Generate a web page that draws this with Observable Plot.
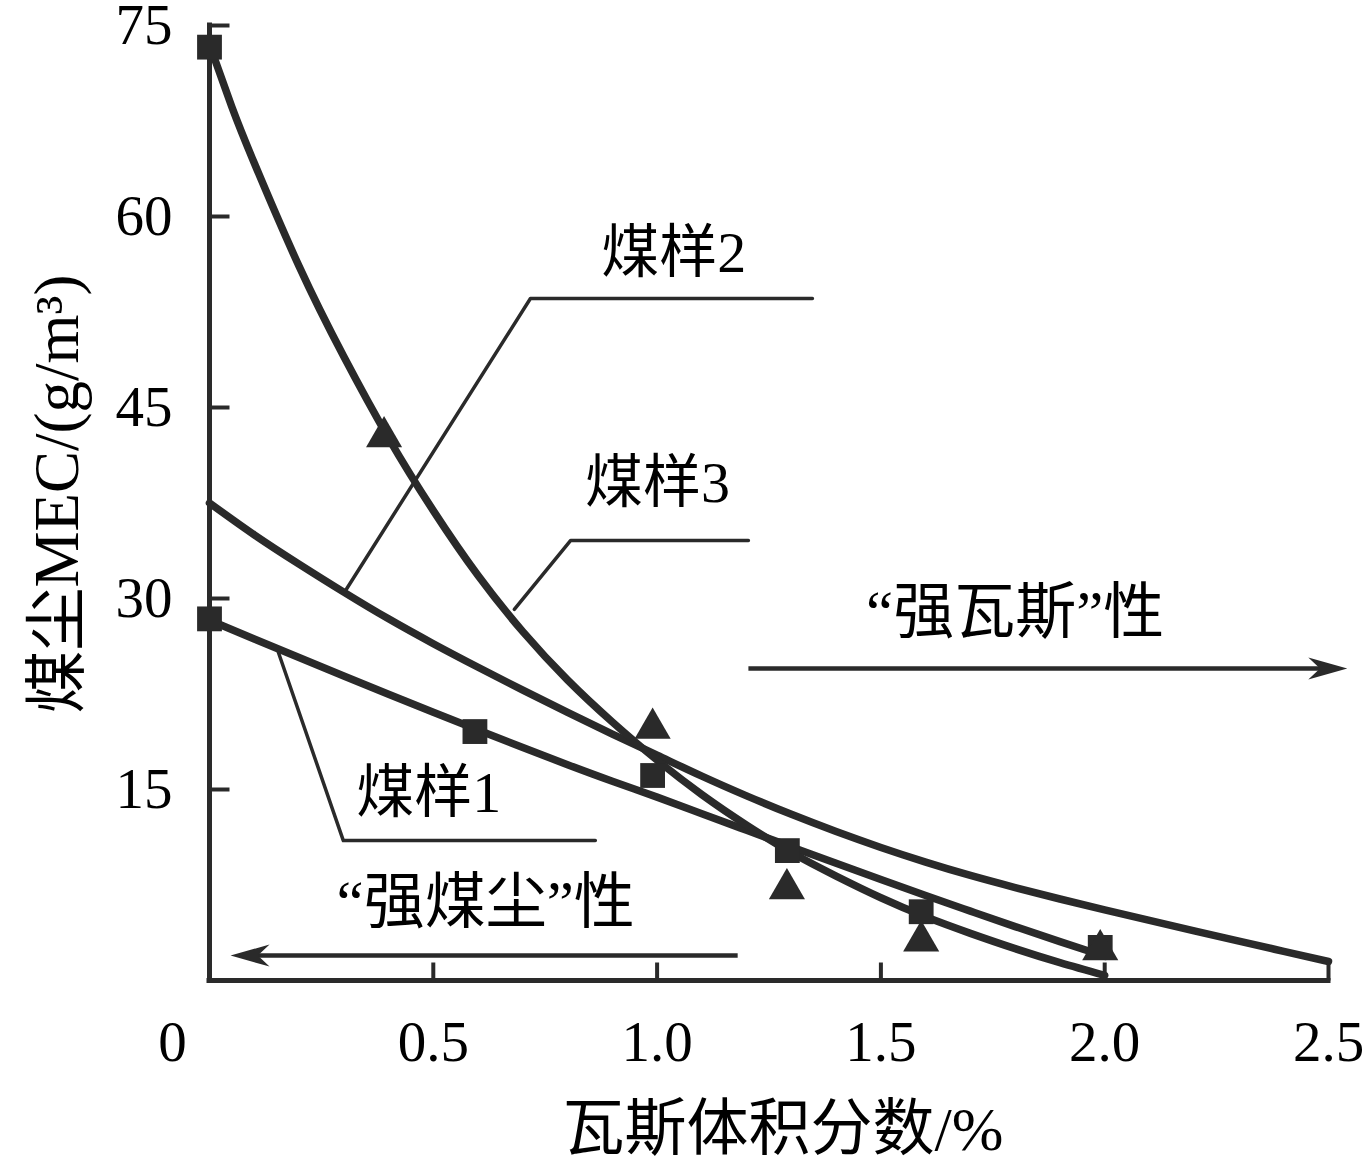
<!DOCTYPE html>
<html><head><meta charset="utf-8">
<script src="https://cdn.jsdelivr.net/npm/d3@7"></script>
<script src="https://cdn.jsdelivr.net/npm/@observablehq/plot@0.6"></script>
<style>body{margin:0;background:#fff}</style>
</head><body><div id="chart"></div>
<script>
// ---- data ----
const xTicks = [0.5, 1.0, 1.5, 2.0, 2.5];
const yTicks = [15, 30, 45, 60, 75];

// 煤样3 (steep fitted curve)
const gas3 = [0,0.05,0.1,0.2,0.3,0.4,0.5,0.6,0.7,0.8,0.9,1.0,1.1,1.2,1.3,1.4,1.5,1.6,1.7,1.8,1.9,2.0];
const mec3 = [73.5,68.6,64.2,56.1,49.0,42.6,36.9,31.8,27.4,23.6,20.3,17.3,14.6,12.2,10.05,8.2,6.5,5.0,3.7,2.5,1.4,0.4];
// 煤样2 (middle fitted curve)
const gas2 = [0,0.1,0.2,0.3,0.4,0.5,0.6,0.7,0.8,0.9,1.0,1.1,1.2,1.3,1.4,1.5,1.6,1.7,1.8,1.9,2.0,2.1,2.2,2.3,2.4,2.5];
const mec2 = [37.5,35.0,32.7,30.5,28.4,26.45,24.6,22.8,21.05,19.35,17.7,16.05,14.5,13.05,11.7,10.45,9.3,8.25,7.3,6.4,5.55,4.72,3.9,3.09,2.29,1.49];
// 煤样1 (lower fitted curve)
const gas1 = [0,0.1,0.2,0.3,0.4,0.5,0.6,0.7,0.8,0.9,1.0,1.1,1.2,1.3,1.4,1.5,1.6,1.7,1.8,1.9,2.0];
const mec1 = [28.3,26.82,25.36,23.91,22.48,21.07,19.67,18.29,16.95,15.65,14.4,13.1,11.8,10.5,9.2,7.93,6.68,5.45,4.23,3.05,1.9];

// measured points
const squareX = [0, 0, 0.593, 0.99, 1.291, 1.59, 1.99];
const squareY = [73.3, 28.4, 19.55, 16.1, 10.2, 5.4, 2.6];
const triangleX = [0.39, 0.99, 1.29, 1.59, 1.99];
const triangleY = [42.7, 19.8, 7.2, 3.1, 2.4];

// annotations
const labelText = ["煤样2", "煤样3", "煤样1", "“强瓦斯”性", "“强煤尘”性"];
const labelX = [1.037, 1.001, 0.49, 1.80, 0.617];
const labelY = [57.1, 39.0, 14.7, 28.8, 6.05];
const leader2 = [[1.347, 53.56], [0.717, 53.56], [0.304, 30.63]];
const leader3 = [[1.204, 34.56], [0.807, 34.56], [0.681, 29.14]];
const leader1 = [[0.154, 25.76], [0.299, 10.99], [0.862, 10.99]];
const arrowRight = {x1: 1.204, x2: 2.50, y: 24.5, tip: 2.542};
const arrowLeft = {x1: 1.180, x2: 0.09, y: 1.96, tip: 0.047};

const xTitle = "瓦斯体积分数/%";
const yTitle = "煤尘MEC/(g/m³)";

// ---- build tables ----
const toRows = (xs, ys) => xs.map((x, i) => ({x, y: ys[i]}));
const c1 = toRows(gas1, mec1), c2 = toRows(gas2, mec2), c3 = toRows(gas3, mec3);
const sq = toRows(squareX, squareY), tri = toRows(triangleX, triangleY);
const labels = labelText.map((t, i) => ({t, x: labelX[i], y: labelY[i], big: t.length > 4}));

const ink = "#2a2a2a";
const font = "'Liberation Serif','Noto Sans CJK SC',serif";
const tickShape = {draw(ctx, l) { ctx.moveTo(0, 0); ctx.lineTo(0, -l); }};
const dartRight = {draw(ctx, size) { const r = Math.sqrt(size / Math.PI);
  ctx.moveTo(0, 0); ctx.lineTo(-3 * r, -0.85 * r); ctx.lineTo(-2.1 * r, 0); ctx.lineTo(-3 * r, 0.85 * r); ctx.closePath(); }};
const dartLeft = {draw(ctx, size) { const r = Math.sqrt(size / Math.PI);
  ctx.moveTo(0, 0); ctx.lineTo(3 * r, -0.85 * r); ctx.lineTo(2.1 * r, 0); ctx.lineTo(3 * r, 0.85 * r); ctx.closePath(); }};

const chart = Plot.plot({
  width: 1364, height: 1174,
  marginLeft: 209, marginRight: 36, marginTop: 25, marginBottom: 194,
  x: {domain: [0, 2.5]},
  y: {domain: [0, 75]},
  style: {fontFamily: font, background: "#fff", color: "#000"},
  marks: [
    // axis lines
    Plot.ruleY([0], {x1: 0, x2: 2.5, stroke: ink, strokeWidth: 5, strokeLinecap: "square"}),
    Plot.ruleX([0], {y1: 0, y2: 75, stroke: ink, strokeWidth: 5, strokeLinecap: "square"}),
    // inward ticks
    Plot.vector(xTicks, {x: d => d, y: 0, length: 18, rotate: 0, anchor: "start", shape: tickShape, stroke: ink, strokeWidth: 4, strokeLinecap: "butt"}),
    Plot.vector(yTicks, {x: 0, y: d => d, length: 20, rotate: 90, anchor: "start", shape: tickShape, stroke: ink, strokeWidth: 4, strokeLinecap: "butt"}),
    // tick labels
    Plot.axisX({ticks: xTicks, tickSize: 0, tickPadding: 40, tickFormat: d3.format(".1f"), fontSize: 57, fill: "#000", label: null}),
    Plot.text(["0"], {x: 0, frameAnchor: "bottom", lineAnchor: "top", dy: 40, dx: -37, fontSize: 57, fill: "#000"}),
    Plot.axisY({ticks: yTicks, tickSize: 0, tickPadding: 37, fontSize: 57, fill: "#000", label: null}),
    // axis titles
    Plot.text([xTitle], {frameAnchor: "bottom", lineAnchor: "middle", dy: 150, dx: 14, fontSize: 62, fill: "#000"}),
    Plot.text([yTitle], {frameAnchor: "left", rotate: -90, textAnchor: "middle", lineAnchor: "middle", dx: -152, dy: -9, fontSize: 63, fill: "#000"}),
    // fitted curves
    Plot.line(c2, {x: "x", y: "y", stroke: ink, strokeWidth: 7.5, curve: "natural"}),
    Plot.line(c1, {x: "x", y: "y", stroke: ink, strokeWidth: 7.5, curve: "natural"}),
    Plot.line(c3, {x: "x", y: "y", stroke: ink, strokeWidth: 7.5, curve: "natural"}),
    // measured points
    Plot.dot(sq, {x: "x", y: "y", symbol: "square", r: 14, fill: ink, stroke: "none"}),
    Plot.dot(tri, {x: "x", y: "y", symbol: "triangle", r: 13.4, fill: ink, stroke: "none"}),
    // leader lines
    Plot.line(leader2, {stroke: ink, strokeWidth: 3.5, curve: "linear"}),
    Plot.line(leader3, {stroke: ink, strokeWidth: 3.5, curve: "linear"}),
    Plot.line(leader1, {stroke: ink, strokeWidth: 3.5, curve: "linear"}),
    // arrows
    Plot.link([arrowRight], {x1: "x1", x2: "x2", y1: "y", y2: "y", stroke: ink, strokeWidth: 4.5}),
    Plot.dot([arrowRight], {x: "tip", y: "y", symbol: dartRight, r: 13, fill: ink, stroke: "none"}),
    Plot.link([arrowLeft], {x1: "x1", x2: "x2", y1: "y", y2: "y", stroke: ink, strokeWidth: 4.5}),
    Plot.dot([arrowLeft], {x: "tip", y: "y", symbol: dartLeft, r: 13, fill: ink, stroke: "none"}),
    // labels
    Plot.text(labels.filter(d => !d.big), {x: "x", y: "y", text: "t", fontSize: 58, fill: "#000", textAnchor: "middle", lineAnchor: "middle"}),
    Plot.text(labels.filter(d => d.big), {x: "x", y: "y", text: "t", fontSize: 61, fill: "#000", textAnchor: "middle", lineAnchor: "middle"})
  ]
});
document.getElementById("chart").appendChild(chart);
</script>
</body></html>
